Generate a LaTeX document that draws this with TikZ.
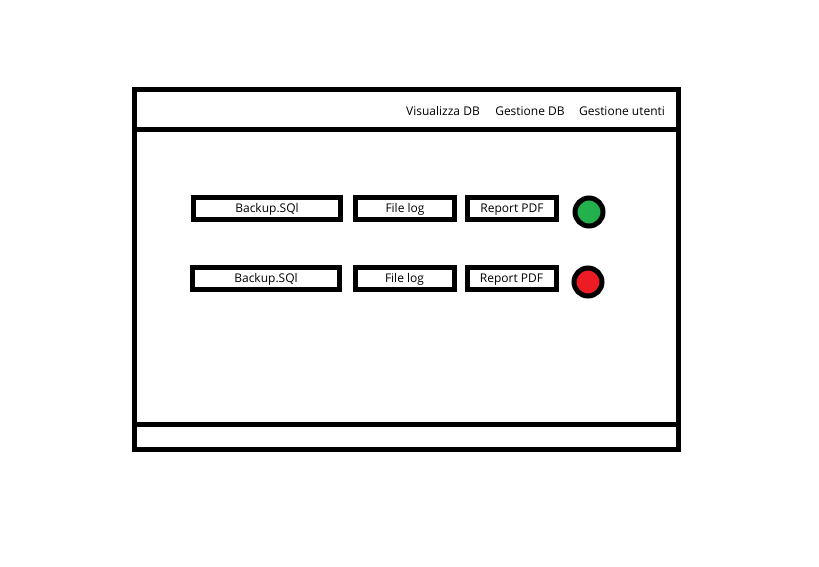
\documentclass[tikz,border=0pt]{standalone}
\usepackage{fontspec}
\setmainfont{Open Sans}
\definecolor{paintgreen}{RGB}{34,177,76}
\definecolor{paintred}{RGB}{237,28,36}
\tikzset{
  box/.style={draw, line width=5pt, minimum height=22pt, inner sep=0pt, text height=8.6pt, text depth=0pt, font=\fontsize{12}{14}\selectfont},
  lamp/.style={circle, draw, line width=5pt, minimum size=28pt, inner sep=0pt},
  menu/.style={font=\fontsize{12}{14}\selectfont, inner sep=0pt, text height=8.6pt, text depth=0pt}
}
\begin{document}
\begin{tikzpicture}[x=1pt,y=-1pt]
    \useasboundingbox (0,0) rectangle (819,566);
    \draw[line width=5pt] (134,89) rectangle (678,449);
    \draw[line width=5pt] (134,129.5)--(678,129.5);
    \draw[line width=5pt] (134,424)--(678,424);
    \node[menu] (vis) at (443,111) {Visualizza DB};
    \node[menu] (gdb) at (530,111) {Gestione DB};
    \node[menu] (gut) at (622,111) {Gestione utenti};
    \node[box, minimum width=147pt] (bak1) at (267,208.5) {Backup.SQl};
    \node[box, minimum width=99pt] (log1) at (405,208.5) {File log};
    \node[box, minimum width=89pt] (pdf1) at (512,208.5) {Report PDF};
    \node[lamp, fill=paintgreen] (ok) at (589,212) {};
    \node[box, minimum width=147pt] (bak2) at (266,278.5) {Backup.SQl};
    \node[box, minimum width=99pt] (log2) at (404.5,278.5) {File log};
    \node[box, minimum width=89pt] (pdf2) at (511.5,278.5) {Report PDF};
    \node[lamp, fill=paintred] (err) at (588,282) {};
\end{tikzpicture}
\end{document}
